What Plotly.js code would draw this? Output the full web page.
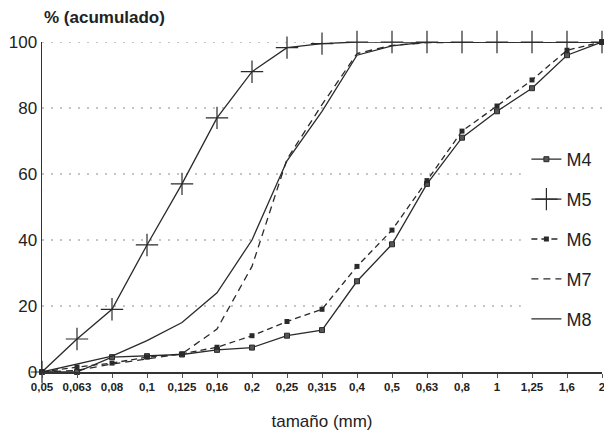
<!DOCTYPE html>
<html>
<head>
<meta charset="utf-8">
<script src="https://cdn.plot.ly/plotly-3.0.1.min.js"></script>
<style>html,body{margin:0;padding:0;background:#fff;}#chart{width:604px;height:435px;}</style>
</head>
<body>
<div id="chart"></div>
<script>
const sizes = ["0,05","0,063","0,08","0,1","0,125","0,16","0,2","0,25","0,315","0,4","0,5","0,63","0,8","1","1,25","1,6","2"];
const M4 = [0, 0, 4.5, 4.8, 5.3, 6.7, 7.4, 11, 12.7, 27.5, 38.7, 57, 71, 79, 86, 96, 100];
const M5 = [0, 10, 19, 38.5, 57, 77, 91, 98.3, 99.5, 100, 100, 100, 100, 100, 100, 100, 100];
const M6 = [0, 1.5, 2.7, 4.5, 5.5, 7.5, 11, 15.3, 19, 32, 43, 58, 73, 80.6, 88.5, 97.5, 100];
const M7 = [0, 0.5, 2.4, 4, 5.5, 13, 32, 64.5, 81, 96.5, 99, 99.8, 100, 100, 100, 100, 100];
const M8 = [0, 2.3, 4.8, 9.5, 15, 24, 40, 64, 79, 96, 98.8, 100, 100, 100, 100, 100, 100];
const seriesNames = ["M4","M5","M6","M7","M8"];
const gridLevels = [20, 40, 60, 80, 100];

const ink = "#2a2a2a";
const traces = [
  {x: sizes, y: M4, name: seriesNames[0], legendgroup: "a", mode: "lines+markers",
   line: {color: ink, width: 1.3}, marker: {symbol: "square", size: 5, color: "#555", line: {color: ink, width: 1}}},
  {x: sizes, y: M5, name: seriesNames[1], legendgroup: "b", mode: "lines+markers",
   line: {color: ink, width: 1.3}, marker: {symbol: "cross-thin-open", size: 16, line: {color: ink, width: 1.2}}},
  {x: sizes, y: M6, name: seriesNames[2], legendgroup: "c", mode: "lines+markers",
   line: {color: ink, width: 1.3, dash: "6px,4px"}, marker: {symbol: "square", size: 5, color: ink}},
  {x: sizes, y: M7, name: seriesNames[3], legendgroup: "d", mode: "lines",
   line: {color: ink, width: 1.3, dash: "7px,5px"}},
  {x: sizes, y: M8, name: seriesNames[4], legendgroup: "e", mode: "lines",
   line: {color: ink, width: 1.3}}
];
traces.forEach(t => { t.cliponaxis = false; });

const shapes = gridLevels.map(v => ({
  type: "line", xref: "paper", yref: "y", x0: 0, x1: v >= 80 ? 1 : 0.855, y0: v, y1: v,
  line: {color: "#8a8a8a", width: 1, dash: "2px,7px"}, layer: "below"
}));

const layout = {
  width: 604, height: 435,
  margin: {l: 42, r: 2, t: 42, b: 63},
  paper_bgcolor: "#fff", plot_bgcolor: "#fff",
  font: {family: "Liberation Sans, Arial, sans-serif", color: "#222"},
  showlegend: true,
  legend: {x: 0.865, y: 0.70, xanchor: "left", yanchor: "top", bgcolor: "rgba(0,0,0,0)",
           font: {size: 18, color: "#222"}, traceorder: "grouped", tracegroupgap: 13.5, itemwidth: 30},
  xaxis: {type: "category", range: [0, 16], showgrid: false, zeroline: false,
          showline: true, linecolor: "#333", linewidth: 1.5,
          ticks: "outside", ticklen: 4, tickcolor: "#555",
          tickfont: {size: 11.5, family: "Liberation Sans, Arial, sans-serif", color: "#222", weight: "bold"},
          title: {text: "tamaño (mm)", font: {size: 17, color: "#222"}, standoff: 23}},
  yaxis: {range: [0, 100], tickvals: [0, 20, 40, 60, 80, 100], showgrid: false, zeroline: false,
          showline: true, linecolor: "#333", linewidth: 1.5, ticks: "",
          tickfont: {size: 17, color: "#222"}},
  shapes: shapes,
  annotations: [{text: "<b>% (acumulado)</b>", xref: "paper", yref: "paper", x: 0, y: 1.073,
                 xanchor: "left", yanchor: "middle", showarrow: false, font: {size: 17, color: "#222"}}]
};

Plotly.newPlot("chart", traces, layout, {displayModeBar: false, staticPlot: true});
</script>
</body>
</html>
